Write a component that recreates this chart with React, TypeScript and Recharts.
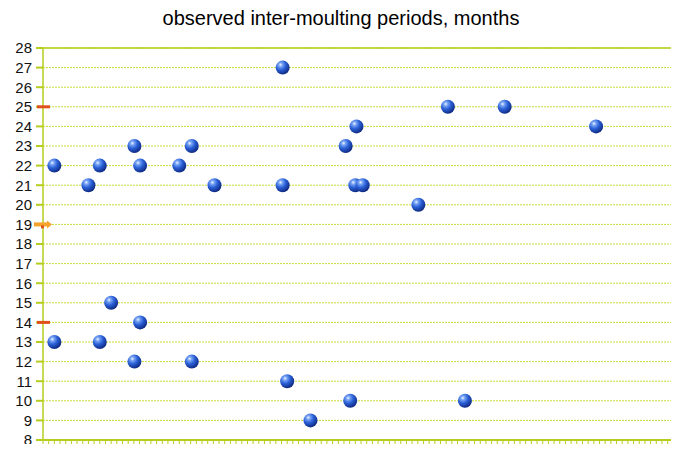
import { ScatterChart, Scatter, XAxis, YAxis, CartesianGrid, ReferenceLine } from "recharts";

const title = "observed inter-moulting periods, months";

// observation index and period in months
const obsX = [2, 2, 8, 10, 10, 12, 16.1, 16.1, 17.1, 17.1, 24, 26.2, 26.2, 30.2, 42.2, 42.2, 43, 47.1, 53.3, 54.1, 55.2, 55, 56.3, 66.1, 71.3, 74.3, 81.3, 97.4];
const obsY = [22, 13, 21, 22, 13, 15, 23, 12, 22, 14, 22, 23, 12, 21, 27, 21, 11, 9, 23, 10, 24, 21, 21, 20, 25, 10, 25, 24];

// markers on the left edge
const dashLevels = [25, 14];
const arrowLevel = 19;

const yTicks = [8, 9, 10, 11, 12, 13, 14, 15, 16, 17, 18, 19, 20, 21, 22, 23, 24, 25, 26, 27, 28];
const xMax = 111.5;
const xTicks = Array.from({ length: 112 }, (_, i) => i);

const points = obsX.map((x, i) => ({ x, y: obsY[i] }));
const dashes = dashLevels.map((y) => ({ x: 0, y }));
const arrow = [{ x: 0, y: arrowLevel }];

const green = "#b6cd1e";

const Ball = (props: any) => {
    const { cx, cy } = props;
    return <circle cx={cx} cy={cy} r={7} fill="url(#ball)" />;
};

const Dash = (props: any) => {
    const { cx, cy } = props;
    return <rect x={cx - 6} y={cy - 1.5} width={13} height={3} fill="#e0501c" />;
};

const Arrow = (props: any) => {
    const { cx, cy } = props;
    return (
        <g>
            <rect x={cx - 9} y={cy - 2} width={14} height={4} fill="#f5a32a" />
            <polygon points={`${cx + 4},${cy - 4} ${cx + 9},${cy} ${cx + 4},${cy + 4}`} fill="#f5a32a" />
            <rect x={cx - 2} y={cy + 1} width={3} height={3} fill="#d9531a" />
        </g>
    );
};

const NoLabel = () => <g />;

const App = () => {
    return (
        <div style={{ position: "relative", width: 671, height: 444, marginBottom: -8, fontFamily: "'Liberation Sans', Arial, sans-serif" }}>
            <div style={{ position: "absolute", top: -1, left: 0, width: 666, textAlign: "center", fontSize: 20, color: "#000" }}>
                {title}
            </div>
            <ScatterChart width={671} height={444} margin={{ top: 40, right: 0, bottom: 0, left: 0 }}>
                <defs>
                    <radialGradient id="ball" cx="35%" cy="30%" r="75%">
                        <stop offset="0%" stopColor="#f2f6ff" />
                        <stop offset="18%" stopColor="#7aa6f5" />
                        <stop offset="50%" stopColor="#2a5fd6" />
                        <stop offset="100%" stopColor="#0b2479" />
                    </radialGradient>
                </defs>
                <CartesianGrid vertical={false} stroke="#c9dc3a" strokeDasharray="2 1" />
                <XAxis
                    type="number"
                    dataKey="x"
                    domain={[0, xMax]}
                    ticks={xTicks}
                    interval={0}
                    tick={<NoLabel />}
                    tickLine={{ stroke: green, strokeWidth: 1 }}
                    tickSize={7}
                    axisLine={{ stroke: green, strokeWidth: 2 }}
                    height={12}
                    allowDecimals={false}
                />
                <YAxis
                    type="number"
                    dataKey="y"
                    domain={[8, 28]}
                    ticks={yTicks}
                    interval={0}
                    width={35}
                    tickSize={7}
                    tickMargin={4}
                    tickLine={{ stroke: green, strokeWidth: 2 }}
                    axisLine={{ stroke: green, strokeWidth: 1.5 }}
                    tick={{ fontSize: 15, fill: "#111", fontFamily: "'Liberation Sans', Arial, sans-serif" }}
                />
                <ReferenceLine y={28} stroke={green} strokeWidth={1.5} />
                <ReferenceLine x={xMax} stroke={green} strokeWidth={1.5} />
                <Scatter data={points} shape={<Ball />} isAnimationActive={false} />
                <Scatter data={dashes} shape={<Dash />} isAnimationActive={false} />
                <Scatter data={arrow} shape={<Arrow />} isAnimationActive={false} />
            </ScatterChart>
        </div>
    );
};

export default App;
